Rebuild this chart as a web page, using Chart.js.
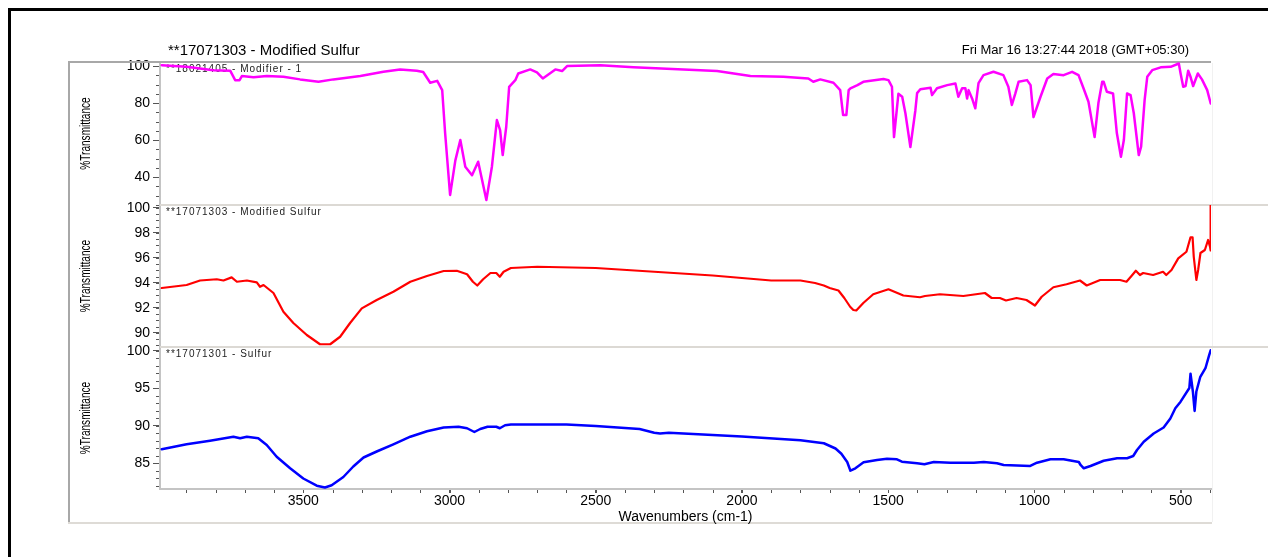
<!DOCTYPE html>
<html>
<head>
<meta charset="utf-8">
<title>FTIR spectra</title>
<script src="https://cdn.jsdelivr.net/npm/chart.js@4.4.1/dist/chart.umd.min.js"></script>
<style>
  html, body { margin: 0; padding: 0; background: #fff; }
  #wrap { position: relative; width: 1268px; height: 557px; overflow: hidden; }
  #frame { position: absolute; left: 8px; top: 8px; width: 1280px; height: 560px;
           border-top: 3px solid #000; border-left: 3px solid #000; }
  #spectra { position: absolute; left: 0; top: 0; }
</style>
</head>
<body>
<div id="wrap">
  <div id="frame"></div>
  <canvas id="spectra" width="1268" height="557"></canvas>
</div>
<script>
// header texts
const plotTitle = '**17071303 - Modified Sulfur';
const plotDate = 'Fri Mar 16 13:27:44 2018 (GMT+05:30)';
const panelLabels = ['**18021405 - Modifier - 1', '**17071303 - Modified Sulfur', '**17071301 - Sulfur'];
const yTitle = '%Transmittance';
const xTitle = 'Wavenumbers (cm-1)';
const xTicks = [3500, 3000, 2500, 2000, 1500, 1000, 500];

// top panel: **18021405 - Modifier - 1 (wavenumber, %T)
const modWn = [3984, 3899, 3808, 3750, 3733, 3718, 3710, 3670, 3625, 3568, 3511, 3448, 3397, 3305, 3226, 3169, 3112, 3090,
  3066, 3042, 3025, 3015, 2998, 2980, 2963, 2946, 2923, 2902, 2874, 2855, 2838, 2827, 2818, 2806, 2796, 2775, 2765, 2724,
  2701, 2681, 2638, 2615, 2598, 2484, 2371, 2200, 2085, 1971, 1858, 1773, 1756, 1732, 1687, 1664, 1654, 1643, 1635, 1629,
  1605, 1585, 1516, 1499, 1487, 1480, 1465, 1452, 1441, 1424, 1407, 1401, 1390, 1355, 1350, 1333, 1298, 1270, 1260, 1247,
  1236, 1230, 1225, 1213, 1202, 1191, 1174, 1140, 1106, 1089, 1077, 1065, 1054, 1025, 1013, 1003, 979, 956, 935, 900,
  871, 849, 832, 815, 794, 781, 768, 763, 752, 731, 718, 704, 694, 683, 671, 660, 643, 635, 623, 614, 597, 568, 534, 506,
  500, 491, 483, 474, 466, 457, 441, 427, 409, 397];
const modT = [100.5, 99.6, 97.8, 97.5, 92.4, 92.4, 94.6, 93.9, 94.6, 94.2, 92.8, 91.5, 92.8, 94.6, 96.9, 98.2, 97.5, 96.8,
  91, 92, 87, 63.8, 30.3, 49, 60, 45.6, 41, 48.3, 27.6, 45.6, 70.8, 65.4, 51.9, 67.2, 88.8, 92.4, 96, 98.2,
  96.6, 93.3, 98.2, 97.3, 100, 100.4, 99.3, 98.2, 97.3, 94.6, 94.2, 93.3, 91.5, 92.8, 91, 87, 73.5, 73.5, 87, 88,
  89.7, 91.5, 93, 92.4, 88.8, 61.6, 85, 83.4, 74.5, 56.2, 76, 85.4, 87.5, 88.3, 84.3, 88, 89.7, 90.6, 83.4, 88,
  88, 82.5, 87, 82.5, 77.2, 90.8, 95.1, 96.9, 95.1, 88.8, 79, 85.2, 91.5, 92.4, 89.7, 72.4, 83.4, 93.3, 95.7, 95.1,
  96.9, 95.1, 88, 80.7, 61.6, 80, 91.5, 91.5, 86.1, 85.2, 63.8, 51, 60, 85.2, 84.3, 74.5, 51.9, 56.4, 81.6, 94.2, 97.8, 99.3, 99.6, 101.4,
  96, 88.8, 89.2, 97.5, 94.2, 89.2, 96, 92.8, 87, 79.8];

// middle panel: **17071303 - Modified Sulfur
const msWn = [3984, 3899, 3853, 3796, 3773, 3745, 3727, 3693, 3659, 3648, 3636, 3602, 3568, 3534, 3488, 3443, 3408, 3374,
  3340, 3300, 3249, 3192, 3134, 3077, 3020, 2975, 2940, 2920, 2905, 2885, 2860, 2840, 2828, 2815, 2790, 2700, 2500, 2300,
  2100, 1900, 1800, 1750, 1720, 1700, 1670, 1650, 1630, 1619, 1609, 1585, 1551, 1499, 1448, 1391, 1374, 1323, 1243, 1169,
  1146, 1118, 1097, 1061, 1027, 998, 975, 935, 890, 844, 821, 775, 707, 685, 668, 653, 639, 628, 594, 560, 549, 531, 508,
  480, 466, 459, 455, 446, 440, 432, 417, 406, 399, 397.5, 397];
const msT = [93.6, 93.84, 94.2, 94.3, 94.2, 94.45, 94.1, 94.2, 94.05, 93.7, 93.84, 93.2, 91.7, 90.8, 89.84, 89.1, 89.1, 89.7,
  90.8, 91.97, 92.64, 93.3, 94.1, 94.56, 94.96, 94.98, 94.7, 94.1, 93.8, 94.3, 94.8, 94.8, 94.5, 94.9, 95.2, 95.3, 95.2, 94.9,
  94.6, 94.2, 94.2, 94.0, 93.8, 93.6, 93.4, 92.8, 92.1, 91.84, 91.8, 92.4, 93.1, 93.5, 93.0, 92.86, 92.96, 93.1, 92.96, 93.2,
  92.8, 92.8, 92.6, 92.8, 92.64, 92.2, 92.9, 93.66, 93.9, 94.2, 93.8, 94.24, 94.24, 94.1, 94.56, 94.98, 94.64, 94.8, 94.64, 94.9, 94.64, 95.04, 95.97,
  96.5, 97.66, 97.66, 96.1, 94.24, 95.04, 96.4, 96.64, 97.44, 96.86, 96.6, 100.2];

// bottom panel: **17071301 - Sulfur
const sulWn = [3984, 3899, 3819, 3739, 3716, 3693, 3654, 3625, 3591, 3545, 3500, 3454, 3426, 3403, 3363, 3329, 3294, 3249,
  3192, 3134, 3077, 3020, 2969, 2940, 2915, 2895, 2870, 2840, 2828, 2810, 2790, 2600, 2500, 2350, 2300, 2280, 2250, 2000,
  1800, 1720, 1680, 1660, 1640, 1629, 1612, 1584, 1538, 1504, 1470, 1453, 1401, 1376, 1344, 1287, 1207, 1173, 1128, 1105,
  1014, 991, 945, 900, 848, 842, 831, 808, 763, 717, 683, 662, 649, 626, 592, 558, 535, 518, 500, 470, 466, 458, 452, 446,
  433, 415, 403, 397];
const sulT = [86.9, 87.56, 88.04, 88.57, 88.36, 88.57, 88.36, 87.47, 85.9, 84.36, 83.0, 82.04, 81.8, 82.1, 83.2, 84.6, 85.8, 86.6,
  87.56, 88.57, 89.3, 89.8, 89.9, 89.7, 89.2, 89.6, 89.9, 89.9, 89.7, 90.1, 90.2, 90.2, 90.0, 89.6, 89.1, 89.0, 89.1, 88.6,
  88.1, 87.7, 87.0, 86.3, 85.2, 84.04, 84.36, 85.16, 85.47, 85.64, 85.56, 85.24, 85.03, 84.9, 85.2, 85.1, 85.1, 85.2, 85.03, 84.8,
  84.67, 85.1, 85.56, 85.56, 85.2, 84.8, 84.36, 84.67, 85.37, 85.7, 85.7, 86, 86.8, 87.9, 89.0, 89.8, 91.0, 92.36, 93.24, 95.07, 96.97, 94.6, 92.0, 94.6,
  96.5, 97.7, 99.35, 100.1];

const font = "'Liberation Sans', Arial, sans-serif";
Chart.defaults.font.family = font;
Chart.defaults.color = '#000';

const toPoints = (wn, t) => wn.map((w, i) => ({ x: w, y: t[i] }));
const plain = v => String(v);

// keep every trace inside its own panel
const panelClip = {
  id: 'panelClip',
  beforeDatasetDraw(chart, args) {
    const meta = chart.getDatasetMeta(args.index);
    const ys = meta.yScale, xs = meta.xScale;
    const c = chart.ctx;
    c.save();
    c.beginPath();
    c.rect(xs.left, ys.top, xs.width + 2, ys.height);
    c.clip();
  },
  afterDatasetDraw(chart) {
    chart.ctx.restore();
  }
};

// frame, separators, captions and titles
const decor = {
  id: 'decor',
  beforeDatasetsDraw(chart) {
    const c = chart.ctx;
    const xs = chart.scales.x;
    const panels = [chart.scales.yTop, chart.scales.yMod, chart.scales.ySul];
    c.save();
    c.lineWidth = 2;
    c.strokeStyle = '#a8a8a8';
    c.beginPath(); c.moveTo(69, 523); c.lineTo(69, 62); c.lineTo(xs.right, 62); c.stroke();
    c.strokeStyle = '#dedbd6';
    c.beginPath(); c.moveTo(68, 523); c.lineTo(xs.right + 1, 523); c.stroke();
    c.strokeStyle = '#f1f1f1'; c.lineWidth = 1;
    c.beginPath(); c.moveTo(xs.right + 1.5, 63); c.lineTo(xs.right + 1.5, 522); c.stroke();
    c.strokeStyle = '#dcd9d4'; c.lineWidth = 2;
    [panels[1], panels[2]].forEach(s => {
      c.beginPath(); c.moveTo(xs.left, s.top); c.lineTo(chart.width, s.top); c.stroke();
    });
    c.fillStyle = '#222';
    c.font = '10px ' + font;
    c.letterSpacing = '1px';
    c.textBaseline = 'middle';
    panelLabels.forEach((t, i) => c.fillText(t, xs.left + 6, panels[i].top + 7));
    c.restore();

    // squeezed, rotated axis titles like the instrument printout
    c.save();
    c.fillStyle = '#000';
    c.font = '14px ' + font;
    c.textAlign = 'center';
    c.textBaseline = 'middle';
    panels.forEach(s => {
      c.save();
      c.translate(86, (s.top + s.bottom) / 2);
      c.rotate(-Math.PI / 2);
      c.scale(0.72, 1);
      c.fillText(yTitle, 0, 0);
      c.restore();
    });
    c.restore();
  },
  afterDraw(chart) {
    const c = chart.ctx;
    const xs = chart.scales.x;
    c.save();
    c.fillStyle = '#000';
    c.textBaseline = 'middle';
    c.font = '15px ' + font;
    c.fillText(plotTitle, 168, 51);
    c.font = '13px ' + font;
    c.textAlign = 'right';
    c.fillText(plotDate, 1189, 50);
    c.textAlign = 'center';
    c.font = '14px ' + font;
    c.fillText(xTitle, (xs.left + xs.right) / 2, 517);
    c.restore();
  }
};

// short unlabelled ticks between the labelled ones
const minorSteps = { x: 100, yTop: 5, yMod: 0.5, ySul: 1 };
const minorTicks = {
  id: 'minorTicks',
  afterDraw(chart) {
    const c = chart.ctx;
    c.save();
    c.strokeStyle = '#555';
    c.lineWidth = 1;
    c.beginPath();
    Object.keys(minorSteps).forEach(id => {
      const s = chart.scales[id];
      const step = minorSteps[id];
      const lo = Math.min(s.min, s.max), hi = Math.max(s.min, s.max);
      for (let k = Math.ceil(lo / step); k * step <= hi; k++) {
        const p = Math.round(s.getPixelForValue(k * step)) + 0.5;
        if (id === 'x') { c.moveTo(p, s.top + 1); c.lineTo(p, s.top + 4); }
        else { c.moveTo(s.right - 4, p); c.lineTo(s.right - 1, p); }
      }
    });
    c.stroke();
    c.restore();
  }
};

const yAxis = (min, max, step, weight) => ({
  type: 'linear',
  position: 'left',
  stack: 'ir',
  stackWeight: weight,
  min: min,
  max: max,
  afterFit: s => { s.width = 91; },
  border: { display: true, color: '#c4c4c4', width: 2 },
  grid: { drawOnChartArea: false, tickLength: 7, tickColor: '#555', tickWidth: 1 },
  ticks: { stepSize: step, includeBounds: false, autoSkip: false, color: '#000', font: { size: 14 }, padding: 3, callback: plain },
  title: { display: false }
});

new Chart(document.getElementById('spectra'), {
  type: 'line',
  data: {
    datasets: [
      { label: panelLabels[0], data: toPoints(modWn, modT), yAxisID: 'yTop', borderColor: '#ff00ff', borderWidth: 2.5 },
      { label: panelLabels[1], data: toPoints(msWn, msT), yAxisID: 'yMod', borderColor: '#ff0000', borderWidth: 2.2 },
      { label: panelLabels[2], data: toPoints(sulWn, sulT), yAxisID: 'ySul', borderColor: '#0000ff', borderWidth: 2.5 }
    ]
  },
  options: {
    responsive: false,
    animation: false,
    elements: { point: { radius: 0 }, line: { tension: 0, borderJoinStyle: 'round', borderCapStyle: 'round' } },
    layout: { padding: { left: 69, top: 62, right: 57, bottom: 28 } },
    plugins: { legend: { display: false }, tooltip: { enabled: false } },
    scales: {
      x: {
        type: 'linear',
        reverse: true,
        min: 396,
        max: 3990,
        afterFit: s => { s.height = 40; },
        afterBuildTicks: s => { s.ticks = xTicks.map(v => ({ value: v })); },
        border: { display: true, color: '#c4c4c4', width: 2 },
        grid: { drawOnChartArea: false, tickLength: 4, tickColor: '#555' },
        ticks: { autoSkip: false, maxRotation: 0, color: '#000', font: { size: 14 }, padding: 0, callback: plain },
        title: { display: false }
      },
      ySul: yAxis(81.6, 100.53, 5, 142),
      yMod: yAxis(88.88, 100.24, 2, 142),
      yTop: yAxis(24.9, 102.2, 20, 143)
    }
  },
  plugins: [panelClip, decor, minorTicks]
});
</script>
</body>
</html>
